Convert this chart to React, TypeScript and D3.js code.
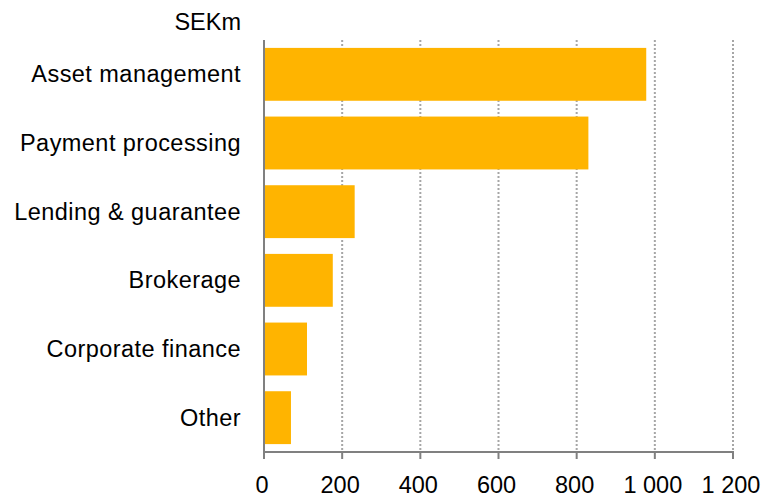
import React from "react";
import * as d3 from "d3";

const categories = [
  "Asset management",
  "Payment processing",
  "Lending & guarantee",
  "Brokerage",
  "Corporate finance",
  "Other",
];
const values = [978, 830, 232, 176, 110, 69];
const tickValues = [0, 200, 400, 600, 800, 1000, 1200];
const tickLabels = ["0", "200", "400", "600", "800", "1 000", "1 200"];
const unitLabel = "SEKm";

const W = 766;
const H = 499;
const left = 264;
const right = 733;
const top = 40;
const bottom = 452;
const font = "'Liberation Sans', Arial, sans-serif";

export default function App() {
  const x = d3.scaleLinear().domain([0, 1200]).range([left, right]);
  const y = d3
    .scaleBand<string>()
    .domain(categories)
    .range([top, bottom])
    .paddingInner(0.23)
    .paddingOuter(0.115);

  return (
    <svg
      width={W}
      height={H}
      style={{ position: "absolute", left: 0, top: 0, background: "#fff" }}
    >
      {tickValues.slice(1).map((t) => (
        <line
          key={"g" + t}
          x1={x(t)}
          x2={x(t)}
          y1={top}
          y2={bottom}
          stroke="#a6a6a6"
          strokeWidth={2}
          strokeDasharray="2 2"
        />
      ))}
      {categories.map((c, i) => (
        <rect
          key={c}
          x={x(0) + 1}
          y={y(c)!}
          width={x(values[i]) - x(0) - 1}
          height={y.bandwidth()}
          fill="#FFB400"
        />
      ))}
      <line x1={left} x2={left} y1={top} y2={bottom + 1} stroke="#808080" strokeWidth={2} />
      <line x1={left - 1} x2={right + 1} y1={bottom} y2={bottom} stroke="#808080" strokeWidth={2} />
      {tickValues.map((t) => (
        <line key={"t" + t} x1={x(t)} x2={x(t)} y1={bottom} y2={bottom + 7} stroke="#808080" strokeWidth={2} />
      ))}
      {tickValues.map((t, i) => (
        <text
          key={"l" + t}
          x={x(t) - 2}
          y={493}
          textAnchor="middle"
          fontFamily={font}
          fontSize={23.5}
          fill="#000"
        >
          {tickLabels[i]}
        </text>
      ))}
      {categories.map((c) => (
        <text
          key={"c" + c}
          x={241}
          y={y(c)! + y.bandwidth() / 2 + 8}
          textAnchor="end"
          fontFamily={font}
          fontSize={23.5}
          letterSpacing={0.45}
          fill="#000"
        >
          {c}
        </text>
      ))}
      <text x={241} y={30} textAnchor="end" fontFamily={font} fontSize={23.5} fill="#000">
        {unitLabel}
      </text>
    </svg>
  );
}
